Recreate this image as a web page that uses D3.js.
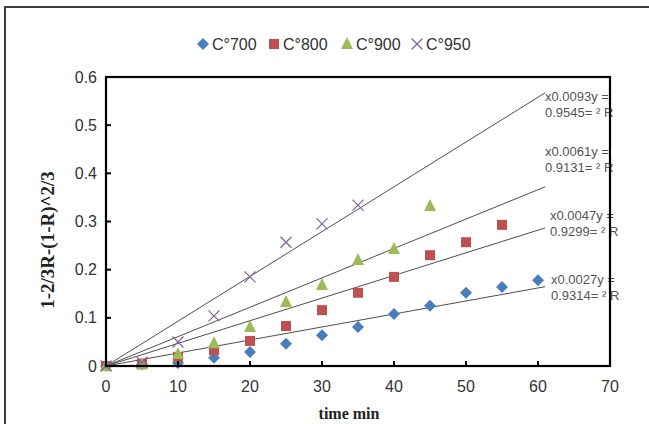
<!DOCTYPE html>
<html><head><meta charset="utf-8">
<script src="https://cdn.jsdelivr.net/npm/d3@7"></script>
<style>body{margin:0;background:#fff}svg{display:block}</style>
</head><body>
<svg id="chart" width="649" height="424"></svg>
<script>
const time = [0,5,10,15,20,25,30,35,40,45,50,55,60];
const c700 = [0,0.003,0.006,0.017,0.029,0.046,0.064,0.081,0.108,0.125,0.152,0.164,0.178];
const c800 = [0,0.005,0.019,0.033,0.052,0.083,0.116,0.152,0.185,0.23,0.257,0.293];
const c900 = [0,0.003,0.025,0.047,0.081,0.133,0.168,0.22,0.243,0.332];
const c950 = [0,0.008,0.05,0.104,0.185,0.257,0.295,0.334];
const seriesNames = ["C°700","C°800","C°900","C°950"];
const slopes = [0.0027,0.0047,0.0061,0.0093];
const eqLines1 = ["x0.0027y =","x0.0047y =","x0.0061y =","x0.0093y ="];
const eqLines2 = ["0.9314= ² R","0.9299= ² R","0.9131= ² R","0.9545= ² R"];
const trendEnd = 61;
const xTicks = [0,10,20,30,40,50,60,70];
const yTicks = [0,0.1,0.2,0.3,0.4,0.5,0.6];
const yTitle = "1-2/3R-(1-R)^2/3";
const xTitle = "time min";

const colors = ["#4a7ebb","#c0504d","#9bbb59","#8064a2"];
const shapes = ["diamond","square","triangle","cross"];
const values = [c700,c800,c900,c950];

const svg = d3.select("#chart");
const L=106,R=610,T=77,B=366;
const x = d3.scaleLinear().domain([0,70]).range([L,R]);
const y = d3.scaleLinear().domain([0,0.6]).range([B,T]);

// outer frame
svg.append("rect").attr("x",5).attr("y",7).attr("width",700).attr("height",500)
  .attr("fill","none").attr("stroke","#000").attr("stroke-width",1.5);

function marker(g, shape, color, cx, cy){
  if(shape==="diamond"){
    const s=6;
    g.append("path").attr("d",`M${cx},${cy-s}L${cx+s},${cy}L${cx},${cy+s}L${cx-s},${cy}Z`).attr("fill",color);
  } else if(shape==="square"){
    const s=5;
    g.append("rect").attr("x",cx-s).attr("y",cy-s).attr("width",2*s).attr("height",2*s).attr("fill",color);
  } else if(shape==="triangle"){
    const s=6;
    g.append("path").attr("d",`M${cx},${cy-s-1}L${cx+s},${cy+s-1}L${cx-s},${cy+s-1}Z`).attr("fill",color);
  } else {
    const s=5.5;
    g.append("path").attr("d",`M${cx-s},${cy-s}L${cx+s},${cy+s}M${cx-s},${cy+s}L${cx+s},${cy-s}`).attr("stroke",color).attr("stroke-width",1.3).attr("fill","none");
  }
}

// ticks labels
svg.append("g").selectAll("text").data(yTicks).join("text")
  .attr("x",97).attr("y",d=>y(d)).attr("dy","0.35em").attr("text-anchor","end")
  .attr("font-family","Liberation Sans, Arial, sans-serif").attr("font-size",16).attr("fill","#333")
  .text(d=>d===0?"0":d3.format(".1f")(d));
svg.append("g").selectAll("text").data(xTicks).join("text")
  .attr("x",d=>x(d)).attr("y",386).attr("dy","0.35em").attr("text-anchor","middle")
  .attr("font-family","Liberation Sans, Arial, sans-serif").attr("font-size",16).attr("fill","#333")
  .text(d=>d);

// axis titles
svg.append("text").attr("transform",`translate(54,240) rotate(-90)`).attr("text-anchor","middle")
  .attr("font-family","Liberation Serif, serif").attr("font-weight","bold").attr("font-size",19).attr("fill","#222")
  .text(yTitle);
svg.append("text").attr("x",349).attr("y",419).attr("text-anchor","middle")
  .attr("font-family","Liberation Serif, serif").attr("font-weight","bold").attr("font-size",16).attr("fill","#222")
  .text(xTitle);

// trend lines
const tl = svg.append("g");
slopes.forEach((s,i)=>{
  tl.append("line").attr("x1",x(0)).attr("y1",y(0)).attr("x2",x(trendEnd)).attr("y2",y(s*trendEnd))
    .attr("stroke","#3a3a3a").attr("stroke-width",0.9);
});

// points
const pg = svg.append("g");
values.forEach((vals,i)=>{
  vals.forEach((v,j)=>marker(pg, shapes[i], colors[i], x(time[j]), y(v)));
});

// equation labels
const eqY = [280,216,152,97];
const eqX = [551,550,545,545];
eqLines1.forEach((t,i)=>{
  const g = svg.append("text").attr("font-family","Liberation Sans, Arial, sans-serif").attr("font-size",13).attr("fill","#555");
  g.append("tspan").attr("x",eqX[i]).attr("y",eqY[i]+4).text(t);
  g.append("tspan").attr("x",eqX[i]).attr("y",eqY[i]+20).text(eqLines2[i]);
});

// plot border and ticks
const ax = svg.append("g");
ax.append("rect").attr("x",L).attr("y",T).attr("width",R-L).attr("height",B-T)
  .attr("fill","none").attr("stroke","#000").attr("stroke-width",2.2);
ax.selectAll("line.xt").data(xTicks).join("line").attr("class","xt")
  .attr("x1",d=>x(d)).attr("x2",d=>x(d)).attr("y1",B).attr("y2",B-5).attr("stroke","#000").attr("stroke-width",2);
ax.selectAll("line.yt").data(yTicks).join("line").attr("class","yt")
  .attr("x1",L).attr("x2",L+5).attr("y1",d=>y(d)).attr("y2",d=>y(d)).attr("stroke","#000").attr("stroke-width",2);

// legend
const legX = [203,274,347,417];
const lg = svg.append("g");
seriesNames.forEach((n,i)=>{
  marker(lg, shapes[i], colors[i], legX[i], 44);
  lg.append("text").attr("x",legX[i]+9).attr("y",44).attr("dy","0.35em")
    .attr("font-family","Liberation Sans, Arial, sans-serif").attr("font-size",16).attr("fill","#333").text(n);
});
</script>
</body></html>
